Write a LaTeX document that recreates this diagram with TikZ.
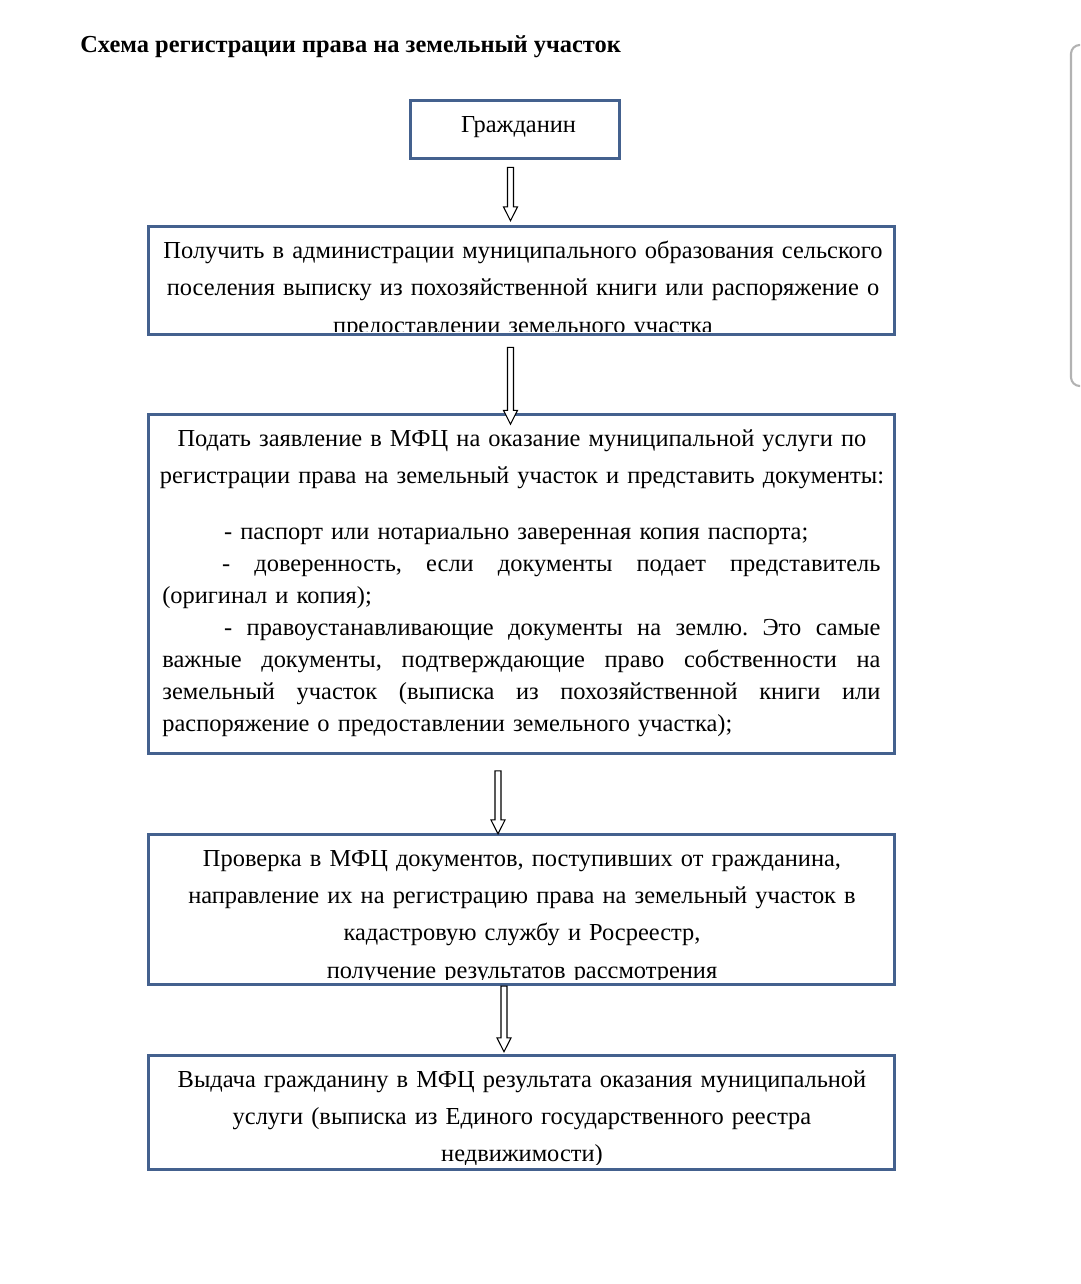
\documentclass[tikz,border=0pt]{standalone}
\usepackage{fontspec}
\setmainfont{Liberation Serif}
\usetikzlibrary{calc, positioning}

\newlength\pxu
\setlength\pxu{0.5669pt}
\definecolor{boxblue}{RGB}{68,97,142}

% hollow block arrow from #1 down to #2
\newcommand{\blockarrow}[2]{%
  \draw[hollow] let \p1=(#1), \p2=(#2) in
    (\x1-1.7pt,\y1) -- (\x1+1.7pt,\y1) -- (\x1+1.7pt,\y2+7.9pt)
    -- (\x1+4pt,\y2+7.9pt) -- (\x1,\y2) -- (\x1-4pt,\y2+7.9pt)
    -- (\x1-1.7pt,\y2+7.9pt) -- cycle;}
\newcommand{\fullline}[1]{\makebox[721\pxu][s]{\spaceskip=0.25em plus 2em\relax #1}}

\tikzset{
  stepbox/.style={draw=boxblue, line width=1.7pt, inner sep=0pt,
    minimum width=749\pxu},
  boxtext/.style={anchor=base, inner sep=0pt, text width=745\pxu,
    align=center, font=\fontsize{13.9pt}{21.3pt}\selectfont},
  listtext/.style={anchor=base west, inner sep=0pt, text width=721\pxu,
    align=left, font=\fontsize{13.9pt}{18.3pt}\selectfont\frenchspacing},
  hollow/.style={draw=black, line width=0.6pt, fill=white},
}

\begin{document}
\begin{tikzpicture}[x=0.02cm, y=-0.02cm]
\useasboundingbox (0,0) rectangle (1080,1284);

\node[anchor=base west, inner sep=0pt, font=\bfseries\fontsize{13.9pt}{16pt}\selectfont]
  (title) at (80,53) {Схема регистрации права на земельный участок};

% boxes
\node[stepbox, minimum width=210\pxu, minimum height=59\pxu] (citizen) at (515,129.5) {};
\node[stepbox, minimum height=109\pxu] (extract) at (521.5,280.5) {};
\node[stepbox, minimum height=340\pxu] (apply) at (521.5,584) {};
\node[stepbox, minimum height=151\pxu] (check) at (521.5,909.5) {};
\node[stepbox, minimum height=115\pxu] (issue) at (521.5,1112.5) {};

% texts
\node[anchor=base, inner sep=0pt, font=\fontsize{13.9pt}{16pt}\selectfont]
  (citizentext) at (518.5,133) {Гражданин};

\begin{scope}
\clip (150,229) rectangle (893,331);
\node[boxtext, font=\fontsize{13.9pt}{21.54pt}\selectfont] (extracttext) at (523,258)
  {Получить в администрации муниципального образования сельского\\
   поселения выписку из похозяйственной книги или распоряжение о\\
   предоставлении земельного участка};
\end{scope}

\node[boxtext, font=\fontsize{13.9pt}{21.54pt}\selectfont] (applyhead) at (522,446)
  {Подать заявление в МФЦ на оказание муниципальной услуги по\\
   регистрации права на земельный участок и представить документы:};
\node[listtext] (applylist) at (162,539)
  {\hspace*{62\pxu}- паспорт или нотариально заверенная копия паспорта;\\
   \fullline{\hspace*{60\pxu}- доверенность, если документы подает представитель}\\
   (оригинал и копия);\\
   \fullline{\hspace*{62\pxu}- правоустанавливающие документы на землю. Это самые}\\
   \fullline{важные документы, подтверждающие право собственности на}\\
   \fullline{земельный участок (выписка из похозяйственной книги или}\\
   распоряжение о предоставлении земельного участка);};

\begin{scope}
\clip (150,837) rectangle (893,979);
\node[boxtext] (checktext) at (522,866)
  {Проверка в МФЦ документов, поступивших от гражданина,\\
   направление их на регистрацию права на земельный участок в\\
   кадастровую службу и Росреестр,\\
   получение результатов рассмотрения};
\end{scope}

\begin{scope}
\clip (150,1058) rectangle (893,1164);
\node[boxtext] (issuetext) at (522,1087)
  {Выдача гражданину в МФЦ результата оказания муниципальной\\
   услуги (выписка из Единого государственного реестра\\
   недвижимости)};
\end{scope}

% arrows
\blockarrow{[shift={(-4.5,7)}]citizen.south}{[shift={(-11,-4)}]extract.north}
\blockarrow{[shift={(-11,11)}]extract.south}{[shift={(-11,11)}]apply.north}
\blockarrow{[shift={(-23.5,16)}]apply.south}{[shift={(-23.5,1)}]check.north}
\blockarrow{[shift={(-17.5,0)}]check.south}{[shift={(-17.5,-2)}]issue.north}

% scroll bar at the right edge
\begin{scope}
\clip (0,0) rectangle (1080,1284);
\draw[black!30, line width=1.2pt, rounded corners=5pt] (1071,45) rectangle (1110,386);
\end{scope}
\end{tikzpicture}
\end{document}
